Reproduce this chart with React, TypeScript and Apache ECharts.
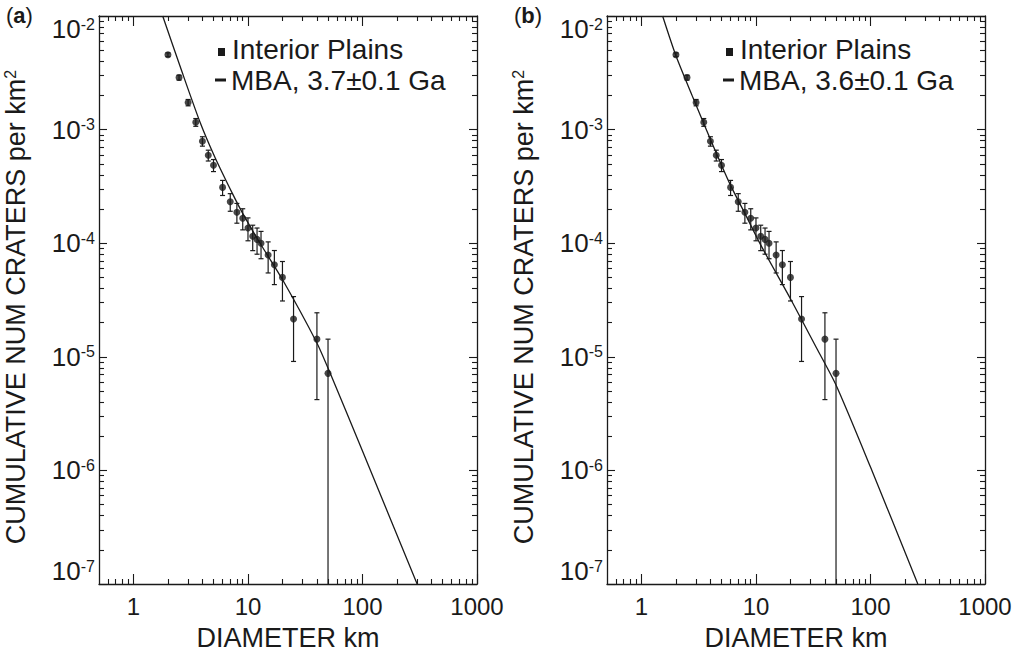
import React, { useEffect, useRef } from 'react';
import * as echarts from 'echarts';

// ---- Data ----
// Crater size-frequency data (identical in both panels)
const diameters = [2, 2.5, 3, 3.5, 4, 4.5, 5, 6, 7, 8, 9, 10, 11, 12, 13, 15, 17, 20, 25, 40, 50];
const density = [4.56e-3, 2.87e-3, 1.73e-3, 1.16e-3, 7.9e-4, 5.94e-4, 4.86e-4, 3.1e-4, 2.32e-4, 1.87e-4, 1.66e-4, 1.36e-4, 1.15e-4, 1.08e-4, 1.0e-4, 7.87e-5, 6.47e-5, 5.0e-5, 2.15e-5, 1.43e-5, 7.15e-6];
const densityErr = [1.8e-4, 1.43e-4, 1.11e-4, 9.1e-5, 7.5e-5, 6.5e-5, 5.9e-5, 4.7e-5, 4.1e-5, 3.7e-5, 3.5e-5, 3.1e-5, 2.9e-5, 2.8e-5, 2.7e-5, 2.4e-5, 2.15e-5, 1.9e-5, 1.24e-5, 1.01e-5, 7.15e-6];

// MBA model curves
const mbaA_D = [1.8, 2.63, 3.83, 5.13, 7.38, 9.02, 12.6, 20.0, 39.6, 51.5, 100, 300];
const mbaA_N = [1.0e-2, 3.31e-3, 1.15e-3, 5.75e-4, 2.69e-4, 1.82e-4, 1.02e-4, 4.79e-5, 1.35e-5, 7.41e-6, 1.48e-6, 1.0e-7];
const mbaB_D = [1.53, 2.0, 2.82, 3.98, 5.93, 8.02, 11.2, 20.0, 33.9, 50.1, 100, 259];
const mbaB_N = [1.0e-2, 4.47e-3, 1.91e-3, 8.32e-4, 3.31e-4, 1.82e-4, 9.33e-5, 3.24e-5, 1.19e-5, 5.62e-6, 1.07e-6, 1.0e-7];

// Axis ticks
const xTickLabels = [1, 10, 100, 1000];
const yTickExponents = [-7, -6, -5, -4, -3, -2];
const xRange = [0.5, 1000];
const yRange = [1e-7, 1e-2];

const panelLetters = ['a', 'b'];
const dataLegend = 'Interior Plains';
const modelLegends = ['MBA, 3.7±0.1 Ga', 'MBA, 3.6±0.1 Ga'];

// ---- helpers ----
const L = Math.log10;
const X_MIN = L(xRange[0]);
const X_MAX = L(xRange[1]);
const Y_MIN = L(yRange[0]);
const Y_MAX = L(yRange[1]);
const FONT = "'Liberation Sans', Arial, Helvetica, sans-serif";
const INK = '#1a1a1a';

const xMajor = xTickLabels.map((v) => L(v));
const xMinor: number[] = [];
for (let e = -1; e <= 2; e++) {
  for (let k = 2; k <= 9; k++) {
    const v = k * Math.pow(10, e);
    if (v > xRange[0] && v < xRange[1]) xMinor.push(L(v));
  }
}
const yMajor = yTickExponents.slice();
const yMinor: number[] = [];
for (let e = -7; e <= -3; e++) {
  for (let k = 2; k <= 9; k++) yMinor.push(L(k * Math.pow(10, e)));
}

const GRIDS = [
  { left: 99, top: 16, width: 378, height: 571 },
  { left: 607, top: 16, width: 378, height: 571 },
];

function xAxes(g: number) {
  const common: any = {
    type: 'value', gridIndex: g, min: X_MIN, max: X_MAX,
    splitLine: { show: false },
    axisLine: { onZero: false, lineStyle: { color: INK, width: 1.3 } },
  };
  const tickStyle = { color: INK, width: 1.1 };
  return [
    {
      ...common, position: 'bottom',
      axisTick: { inside: true, length: 10, customValues: xMajor, lineStyle: tickStyle },
      axisLabel: {
        customValues: xMajor, showMinLabel: true, showMaxLabel: true,
        formatter: (v: number) => String(Math.round(Math.pow(10, v))),
        fontSize: 24, color: INK, margin: 10, fontFamily: FONT,
      },
      name: 'DIAMETER km', nameLocation: 'middle', nameGap: 40,
      nameTextStyle: { fontSize: 27, color: INK, fontFamily: FONT },
    },
    {
      ...common, position: 'bottom', axisLine: { show: false, onZero: false },
      axisTick: { inside: true, length: 5, customValues: xMinor, lineStyle: tickStyle },
      axisLabel: { show: false },
    },
    {
      ...common, position: 'top',
      axisTick: { inside: true, length: 10, customValues: xMajor, lineStyle: tickStyle },
      axisLabel: { show: false },
    },
    {
      ...common, position: 'top', axisLine: { show: false, onZero: false },
      axisTick: { inside: true, length: 5, customValues: xMinor, lineStyle: tickStyle },
      axisLabel: { show: false },
    },
  ];
}

function yAxes(g: number) {
  const common: any = {
    type: 'value', gridIndex: g, min: Y_MIN, max: Y_MAX,
    splitLine: { show: false },
    axisLine: { onZero: false, lineStyle: { color: INK, width: 1.3 } },
  };
  const tickStyle = { color: INK, width: 1.1 };
  return [
    {
      ...common, position: 'left',
      axisTick: { inside: true, length: 8, customValues: yMajor, lineStyle: tickStyle },
      axisLabel: {
        customValues: yMajor, showMinLabel: true, showMaxLabel: true,
        verticalAlignMinLabel: 'bottom', verticalAlignMaxLabel: 'top',
        formatter: (v: number) => `{b|10}{s|${Math.round(v)}}`,
        margin: 4, color: INK, fontSize: 26, fontFamily: FONT,
        rich: {
          b: { fontSize: 26, lineHeight: 26, fontFamily: FONT, color: INK },
          s: { fontSize: 16, lineHeight: 16, verticalAlign: 'top', fontFamily: FONT, color: INK },
        },
      },
      name: '{n|CUMULATIVE NUM CRATERS per km}{s|2}', nameLocation: 'middle', nameGap: 70,
      nameTextStyle: {
        color: INK, fontSize: 27, fontFamily: FONT, padding: [0, 14, 0, 0],
        rich: {
          n: { fontSize: 27, lineHeight: 27, fontFamily: FONT, color: INK },
          s: { fontSize: 16, lineHeight: 16, verticalAlign: 'top', fontFamily: FONT, color: INK },
        },
      },
    },
    {
      ...common, position: 'left', axisLine: { show: false, onZero: false },
      axisTick: { inside: true, length: 5, customValues: yMinor, lineStyle: tickStyle },
      axisLabel: { show: false },
    },
    {
      ...common, position: 'right',
      axisTick: { inside: true, length: 8, customValues: yMajor, lineStyle: tickStyle },
      axisLabel: { show: false },
    },
    {
      ...common, position: 'right', axisLine: { show: false, onZero: false },
      axisTick: { inside: true, length: 5, customValues: yMinor, lineStyle: tickStyle },
      axisLabel: { show: false },
    },
  ];
}

function errorBarRender(_params: any, api: any) {
  const x = api.value(0) as number;
  const lo = api.value(1) as number;
  const hi = api.value(2) as number;
  const capLo = api.value(3) as number;
  const top = api.coord([x, hi]);
  const bot = api.coord([x, lo]);
  const style = { stroke: INK, lineWidth: 1.2 };
  const children: any[] = [
    { type: 'line', shape: { x1: top[0], y1: top[1], x2: bot[0], y2: bot[1] }, style },
    { type: 'line', shape: { x1: top[0] - 2.5, y1: top[1], x2: top[0] + 2.5, y2: top[1] }, style },
  ];
  if (capLo) {
    children.push({ type: 'line', shape: { x1: bot[0] - 2.5, y1: bot[1], x2: bot[0] + 2.5, y2: bot[1] }, style });
  }
  return { type: 'group', children };
}

function buildOption() {
  const pointData = diameters.map((d, i) => [L(d), L(density[i])]);
  const errData = diameters.map((d, i) => {
    const lo = density[i] - densityErr[i];
    const hi = density[i] + densityErr[i];
    return [L(d), lo > 0 ? L(lo) : Y_MIN, L(hi), lo > 0 ? 1 : 0];
  });
  const curves = [
    mbaA_D.map((d, i) => [L(d), L(mbaA_N[i])]),
    mbaB_D.map((d, i) => [L(d), L(mbaB_N[i])]),
  ];

  const series: any[] = [];
  const graphic: any[] = [];
  GRIDS.forEach((grid, g) => {
    const ax = g * 4;
    series.push({
      name: modelLegends[g], type: 'line', xAxisIndex: ax, yAxisIndex: ax,
      data: curves[g], showSymbol: false, smooth: 0.25, clip: true,
      lineStyle: { color: INK, width: 1.3 }, z: 3,
    });
    series.push({
      name: dataLegend + ' error', type: 'custom', xAxisIndex: ax, yAxisIndex: ax,
      data: errData, renderItem: errorBarRender, clip: true,
      encode: { x: 0, y: [1, 2] }, z: 4,
    });
    series.push({
      name: dataLegend, type: 'scatter', xAxisIndex: ax, yAxisIndex: ax,
      data: pointData, symbol: 'circle', symbolSize: 7,
      itemStyle: { color: INK }, z: 5,
    });

    const ox = grid.left - GRIDS[0].left;
    graphic.push(
      {
        type: 'text', left: 6 + ox, top: 4,
        style: {
          text: `({b|${panelLetters[g]}})`, fontSize: 22, fontFamily: FONT, fill: INK,
          rich: { b: { fontSize: 22, fontWeight: 'bold', fontFamily: FONT, fill: INK } },
        },
      },
      { type: 'rect', x: 218 + ox, y: 48, shape: { x: 0, y: 0, width: 7, height: 8 }, style: { fill: INK } },
      {
        type: 'text', x: 232 + ox, y: 49,
        style: { text: dataLegend, fontSize: 28, fontFamily: FONT, fill: INK, verticalAlign: 'middle', align: 'left' },
      },
      { type: 'rect', x: 215 + ox, y: 78.5, shape: { x: 0, y: 0, width: 11, height: 3 }, style: { fill: INK } },
      {
        type: 'text', x: 231 + ox, y: 80,
        style: { text: modelLegends[g], fontSize: 28, fontFamily: FONT, fill: INK, verticalAlign: 'middle', align: 'left' },
      }
    );
  });

  return {
    animation: false,
    backgroundColor: '#ffffff',
    textStyle: { fontFamily: FONT, color: INK },
    grid: GRIDS.map((gr) => ({ ...gr, containLabel: false })),
    xAxis: [...xAxes(0), ...xAxes(1)],
    yAxis: [...yAxes(0), ...yAxes(1)],
    series,
    graphic,
  };
}

export default function App() {
  const ref = useRef<HTMLDivElement>(null);
  useEffect(() => {
    if (!ref.current) return;
    const chart = echarts.init(ref.current, undefined, { renderer: 'svg' });
    chart.setOption(buildOption() as any);
    return () => chart.dispose();
  }, []);
  return (
    <div
      ref={ref}
      style={{ position: 'fixed', left: 0, top: 0, width: 1027, height: 656, background: '#fff' }}
    />
  );
}
